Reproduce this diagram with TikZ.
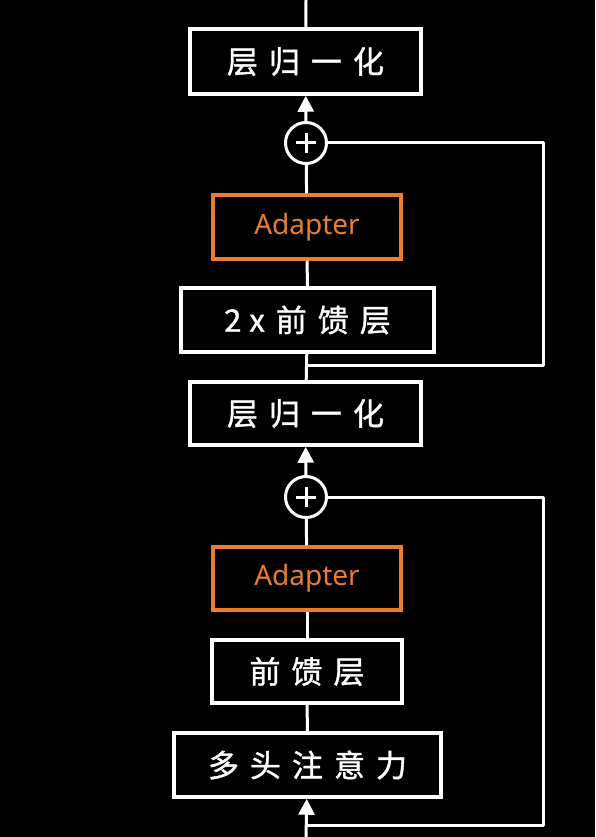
\documentclass[tikz,border=0pt]{standalone}
\usepackage{fontspec}
\setmainfont{Noto Sans}
\newfontfamily\cjk{Noto Sans CJK SC}[FakeBold=1.2]
\usetikzlibrary{arrows.meta,calc}
\definecolor{adapterorange}{RGB}{235,125,45}
\newcommand{\gap}{\hspace{11pt}}
\begin{document}
\begin{tikzpicture}[x=1pt,y=-1pt,
  blk/.style={draw=white,line width=3.5pt,fill=black,text=white,inner sep=0pt,font=\cjk\fontsize{31}{34}\selectfont},
  adp/.style={draw=adapterorange,line width=3.5pt,fill=black,text=adapterorange,inner sep=0pt,font=\fontsize{28}{32}\selectfont},
  addc/.style={draw=white,line width=3pt,circle,fill=black,minimum size=41pt,inner sep=0pt},
  wire/.style={draw=white,line width=3pt},
  arr/.style={wire,-{Triangle[length=16pt,width=16pt]}}
]
\fill[black] (0,0) rectangle (595,837);
\useasboundingbox (0,0) rectangle (595,837);

% nodes
\node[blk,minimum width=231pt,minimum height=65pt] (ln1) at (305.5,61.5) {层\gap 归\gap 一\gap 化};
\node[addc] (p1) at (306,143) {};
\node[adp,minimum width=188pt,minimum height=64pt] (ad1) at (307,227) {Adapter};
\node[blk,minimum width=253pt,minimum height=64pt] (ff2) at (307.5,320) {2\hspace{8pt}x\gap 前\gap 馈\gap 层};
\node[blk,minimum width=231pt,minimum height=63pt] (ln2) at (305.5,413.5) {层\gap 归\gap 一\gap 化};
\node[addc] (p2) at (306,497) {};
\node[adp,minimum width=188pt,minimum height=63pt] (ad2) at (307,578.5) {Adapter};
\node[blk,minimum width=190pt,minimum height=63pt] (ff) at (307,671.5) {前\gap 馈\gap 层};
\node[blk,minimum width=267pt,minimum height=64pt] (mha) at (307.5,765) {多\gap 头\gap 注\gap 意\gap 力};

\coordinate (top) at (306,0);
\coordinate (bot) at (306,837);
\coordinate (r1a) at (543,143);
\coordinate (r1b) at (543,365);
\coordinate (j1) at (306,365);
\coordinate (r2a) at (543,497);
\coordinate (r2b) at (543,825);
\coordinate (j2) at (306,825);

% plus signs
\draw[white,line width=3pt] ($(p1)+(-10,0)$) -- ($(p1)+(10,0)$) ($(p1)+(0,-10)$) -- ($(p1)+(0,10)$);
\draw[white,line width=3pt] ($(p2)+(-10,0)$) -- ($(p2)+(10,0)$) ($(p2)+(0,-10)$) -- ($(p2)+(0,10)$);

% connectors
\draw[wire] (ln1) -- (top);
\draw[arr] (p1) -- (ln1);
\draw[wire] (ad1) -- (p1);
\draw[wire] (ff2) -- (ad1);
\draw[wire] (ln2) -- (ff2);
\draw[arr] (p2) -- (ln2);
\draw[wire] (ad2) -- (p2);
\draw[wire] (ff) -- (ad2);
\draw[wire] (mha) -- (ff);
\draw[arr] (bot) -- (mha);
\draw[wire,line join=round] (p1) -- (r1a) -- (r1b) -- (j1);
\draw[wire,line join=round] (p2) -- (r2a) -- (r2b) -- (j2);
\end{tikzpicture}
\end{document}
